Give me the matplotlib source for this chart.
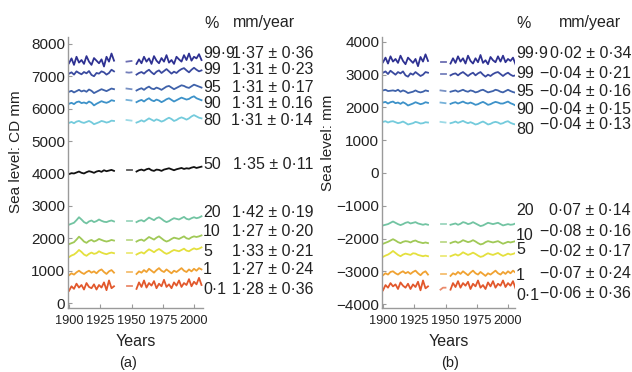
import numpy as np
import matplotlib
matplotlib.use("Agg")
import matplotlib.pyplot as plt

plt.rcParams['font.family'] = ['Liberation Sans', 'DejaVu Sans']

# ---- x positions (years) for the three pieces of each record ----
years_seg1 = list(range(1900, 1937, 2))   # 19
years_dash = [1946, 1948, 1950]           # 3
years_seg2 = list(range(1954, 2007, 2))   # 27
xtick_years = [1900, 1925, 1950, 1975, 2000]
xtick_labels = ["1900", "1925", "1950", "1975", "2000"]

percentiles = ["99·9", "99", "95", "90", "80", "50", "20", "10", "5", "1", "0·1"]
colors = ["#2e3192", "#3a4a9f", "#3f62aa", "#3d92c9", "#74cbdc", "#111111",
          "#72c4a2", "#a0c957", "#e4e03e", "#f0a232", "#e2582c"]

# ---- panel (a): sea level, CD mm ----
a_999 = [7400, 7550, 7350, 7600, 7420, 7500, 7380, 7620, 7450, 7350, 7560, 7480, 7400, 7520, 7300, 7600, 7450, 7700, 7480,
         7450, 7460, 7470,
         7380, 7520, 7400, 7600, 7450, 7550, 7380, 7620, 7480, 7400, 7560, 7450, 7650, 7420, 7500, 7380, 7600, 7520, 7450, 7650, 7500, 7700, 7480, 7600, 7550, 7680, 7500]
a_99 = [7080, 7120, 7050, 7150, 7100, 7060, 7130, 7090, 7160, 7040, 7000, 7100, 7080, 7150, 7120, 7050, 7100, 7200, 7150,
        7120, 7110, 7120,
        7050, 7100, 7130, 7080, 7150, 7200, 7120, 7060, 7140, 7180, 7100, 7160, 7220, 7150, 7080, 7140, 7100, 7170, 7220, 7250, 7180, 7120, 7200, 7260, 7200, 7150, 7180]
a_95 = [6520, 6550, 6500, 6540, 6580, 6530, 6560, 6520, 6590, 6550, 6480, 6520, 6560, 6600, 6570, 6540, 6580, 6620, 6600,
        6620, 6610, 6600,
        6560, 6600, 6630, 6580, 6640, 6680, 6620, 6600, 6650, 6620, 6580, 6630, 6680, 6700, 6650, 6600, 6640, 6680, 6720, 6700, 6660, 6640, 6690, 6740, 6710, 6680, 6650]
a_90 = [6150, 6180, 6140, 6200, 6220, 6170, 6190, 6160, 6220, 6180, 6100, 6150, 6190, 6230, 6200, 6180, 6210, 6260, 6240,
        6270, 6260, 6250,
        6200, 6240, 6270, 6220, 6280, 6320, 6260, 6230, 6280, 6250, 6200, 6240, 6290, 6320, 6270, 6220, 6260, 6300, 6340, 6310, 6280, 6300, 6350, 6380, 6320, 6290, 6260]
a_80 = [5560, 5590, 5550, 5600, 5620, 5580, 5560, 5590, 5620, 5580, 5520, 5550, 5580, 5620, 5600, 5570, 5590, 5630, 5620,
        5650, 5640, 5630,
        5570, 5600, 5640, 5600, 5650, 5700, 5660, 5620, 5670, 5640, 5600, 5630, 5680, 5720, 5680, 5620, 5650, 5700, 5730, 5700, 5660, 5700, 5760, 5800, 5760, 5720, 5700]
a_50 = [3980, 4010, 4000, 4030, 4060, 4020, 4000, 4040, 4070, 4050, 4020, 4060, 4080, 4050, 4100, 4070, 4090, 4110, 4080,
        4100, 4100, 4100,
        4060, 4100, 4120, 4090, 4130, 4150, 4100, 4080, 4120, 4110, 4080, 4120, 4140, 4160, 4130, 4100, 4130, 4150, 4170, 4140, 4160, 4150, 4180, 4200, 4170, 4190, 4210]
a_20 = [2420, 2450, 2480, 2560, 2650, 2580, 2500, 2460, 2520, 2550, 2500, 2530, 2580, 2540, 2510, 2500, 2530, 2550, 2520,
        2540, 2540, 2540,
        2500, 2540, 2560, 2520, 2580, 2640, 2600, 2560, 2620, 2650, 2600, 2540, 2500, 2530, 2580, 2620, 2600, 2580, 2620, 2660, 2600, 2580, 2620, 2650, 2620, 2640, 2680]
a_10 = [1820, 1850, 1880, 1960, 2050, 1980, 1900, 1860, 1920, 1950, 1900, 1930, 1980, 1950, 1920, 1900, 1920, 1950, 1930,
        1940, 1940, 1940,
        1900, 1940, 1960, 1920, 1980, 2040, 2000, 1960, 2020, 2060, 2000, 1940, 1900, 1930, 1980, 2020, 2000, 1980, 2020, 2060, 2000, 1980, 2030, 2060, 2040, 2060, 2090]
a_5 = [1420, 1470, 1500, 1560, 1640, 1580, 1500, 1460, 1520, 1560, 1520, 1540, 1600, 1560, 1530, 1510, 1540, 1560, 1540,
       1550, 1550, 1550,
       1500, 1540, 1570, 1530, 1600, 1660, 1620, 1570, 1630, 1670, 1620, 1560, 1520, 1550, 1600, 1640, 1620, 1600, 1640, 1680, 1620, 1600, 1650, 1690, 1660, 1680, 1720]
a_1 = [860, 920, 880, 950, 1000, 940, 900, 960, 1000, 940, 980, 920, 1000, 1040, 960, 900, 980, 1020, 940,
       960, 960, 960,
       900, 980, 940, 1020, 960, 1060, 1000, 940, 1020, 1080, 1000, 960, 1040, 980, 920, 1000, 960, 1020, 1080, 1000, 960, 1040, 980, 1060, 1000, 1080, 1040]
a_01 = [380, 520, 440, 600, 480, 560, 420, 620, 500, 460, 580, 420, 560, 480, 640, 400, 700, 460, 520,
        520, 520, 520,
        440, 640, 500, 700, 480, 620, 540, 680, 460, 600, 520, 720, 500, 580, 460, 640, 540, 700, 500, 620, 560, 740, 520, 660, 580, 780, 560]
a_rates = ["1·37 ± 0·36", "1·31 ± 0·23", "1·31 ± 0·17", "1·31 ± 0.16", "1·31 ± 0·14",
           "1·35 ± 0·11", "1·42 ± 0·19", "1·27 ± 0·20", "1·33 ± 0·21", "1·27 ± 0·24", "1·28 ± 0·36"]

# ---- panel (b): sea level, mm (median removed) ----
b_999 = [3380, 3520, 3340, 3560, 3400, 3480, 3360, 3580, 3420, 3320, 3520, 3440, 3360, 3480, 3260, 3540, 3400, 3620, 3420,
         3400, 3400, 3400,
         3340, 3500, 3360, 3560, 3400, 3500, 3340, 3580, 3420, 3340, 3500, 3380, 3600, 3360, 3440, 3320, 3540, 3440, 3380, 3560, 3400, 3580, 3380, 3480, 3420, 3520, 3320]
b_99 = [3060, 3100, 3020, 3120, 3060, 3000, 3080, 3040, 3100, 2980, 2940, 3040, 3000, 3080, 3020, 2960, 3000, 3080, 3060,
        3020, 3020, 3020,
        2980, 3020, 3040, 2980, 3040, 3080, 3020, 2960, 3020, 3060, 2980, 3040, 3080, 3000, 2940, 3000, 2960, 3020, 3060, 3080, 3020, 2960, 3020, 3060, 3000, 2960, 2980]
b_95 = [2520, 2540, 2500, 2510, 2520, 2500, 2540, 2480, 2520, 2490, 2440, 2460, 2480, 2520, 2480, 2460, 2480, 2520, 2500,
        2520, 2510, 2500,
        2480, 2500, 2520, 2480, 2510, 2540, 2500, 2480, 2520, 2500, 2460, 2480, 2520, 2540, 2500, 2460, 2480, 2500, 2540, 2520, 2480, 2460, 2500, 2540, 2500, 2470, 2450]
b_90 = [2150, 2170, 2120, 2160, 2180, 2130, 2150, 2110, 2160, 2120, 2060, 2090, 2120, 2160, 2130, 2100, 2120, 2160, 2140,
        2150, 2140, 2130,
        2110, 2140, 2160, 2120, 2150, 2180, 2140, 2120, 2150, 2120, 2080, 2100, 2140, 2170, 2130, 2080, 2100, 2140, 2170, 2150, 2120, 2120, 2150, 2180, 2130, 2100, 2060]
b_80 = [1560, 1580, 1540, 1570, 1580, 1550, 1520, 1540, 1570, 1530, 1480, 1500, 1520, 1560, 1540, 1510, 1520, 1550, 1540,
        1560, 1550, 1540,
        1520, 1540, 1570, 1530, 1560, 1590, 1550, 1520, 1550, 1520, 1480, 1500, 1540, 1570, 1530, 1480, 1500, 1540, 1560, 1540, 1500, 1520, 1560, 1580, 1530, 1500, 1480]
b_20 = [-1600, -1580, -1560, -1520, -1480, -1520, -1560, -1590, -1560, -1520, -1500, -1540, -1520, -1500, -1540, -1560, -1580, -1560, -1580,
        -1560, -1560, -1560,
        -1580, -1560, -1540, -1580, -1550, -1500, -1520, -1560, -1540, -1500, -1540, -1580, -1620, -1600, -1560, -1520, -1540, -1560, -1540, -1520, -1560, -1600, -1580, -1560, -1580, -1570, -1540]
b_10 = [-2160, -2130, -2100, -2060, -2020, -2060, -2110, -2140, -2100, -2080, -2090, -2120, -2080, -2060, -2100, -2120, -2140, -2120, -2140,
        -2120, -2120, -2120,
        -2140, -2110, -2090, -2130, -2100, -2050, -2080, -2110, -2090, -2050, -2090, -2140, -2180, -2160, -2110, -2080, -2100, -2120, -2100, -2080, -2120, -2160, -2130, -2100, -2120, -2100, -2080]
b_5 = [-2560, -2520, -2490, -2440, -2380, -2440, -2500, -2540, -2490, -2460, -2480, -2500, -2450, -2460, -2500, -2520, -2540, -2520, -2540,
       -2520, -2520, -2520,
       -2540, -2510, -2480, -2520, -2480, -2420, -2460, -2500, -2470, -2430, -2470, -2520, -2560, -2540, -2490, -2450, -2480, -2500, -2470, -2440, -2490, -2530, -2500, -2460, -2490, -2470, -2440]
b_1 = [-3120, -3060, -3100, -3020, -3000, -3060, -3100, -3040, -3000, -3060, -3020, -3080, -3020, -2980, -3060, -3120, -3040, -3000, -3100,
       -3080, -3080, -3080,
       -3140, -3060, -3100, -3020, -3080, -3000, -3060, -3120, -3040, -2980, -3060, -3100, -3020, -3080, -3140, -3060, -3100, -3040, -2980, -3060, -3100, -3020, -3080, -3000, -3060, -2980, -3040]
b_01 = [-3580, -3420, -3500, -3360, -3460, -3400, -3540, -3340, -3440, -3500, -3380, -3540, -3400, -3480, -3320, -3580, -3280, -3520, -3460,
        -3560, -3500, -3500,
        -3560, -3360, -3480, -3300, -3500, -3360, -3440, -3320, -3540, -3380, -3460, -3280, -3500, -3420, -3540, -3340, -3460, -3300, -3500, -3380, -3440, -3280, -3480, -3360, -3440, -3300, -3520]
b_rates = ["0·02 ± 0·34", "−0·04 ± 0·21", "−0·04 ± 0·16", "−0·04 ± 0·15", "−0·04 ± 0·13",
           None, "0·07 ± 0·14", "−0·08 ± 0·16", "−0·02 ± 0·17", "−0·07 ± 0·24", "−0·06 ± 0·36"]

a_series = [a_999, a_99, a_95, a_90, a_80, a_50, a_20, a_10, a_5, a_1, a_01]
b_series = [b_999, b_99, b_95, b_90, b_80, None, b_20, b_10, b_5, b_1, b_01]

W, H = 632, 372
fig = plt.figure(figsize=(W / 100, H / 100), dpi=100)

def px_axes(l, t, r, b):
    return fig.add_axes([l / W, 1 - b / H, (r - l) / W, (b - t) / H])

n1, n2 = len(years_seg1), len(years_dash)

def draw(ax, series_list):
    for vals, c in zip(series_list, colors):
        if vals is None:
            continue
        v = np.asarray(vals, float)
        ax.plot(years_seg1, v[:n1], color=c, lw=1.3, solid_joinstyle="round")
        ax.plot(years_dash, v[n1:n1 + n2], color=c, lw=1.3, alpha=0.7)
        ax.plot(years_seg2, v[n1 + n2:], color=c, lw=1.3, solid_joinstyle="round")

def style(ax):
    for s in ("top", "right"):
        ax.spines[s].set_visible(False)
    for s in ("left", "bottom"):
        ax.spines[s].set_color("#9a9a9a")
        ax.spines[s].set_linewidth(1.0)
    ax.tick_params(direction="in", length=3, color="#9a9a9a", width=0.8)
    ax.tick_params(axis="y", labelsize=11, labelcolor="#222222", pad=2)
    ax.tick_params(axis="x", labelsize=9.2, labelcolor="#222222", pad=5)
    ax.set_xticks(xtick_years)
    ax.set_xticklabels(xtick_labels)
    ax.set_xlabel("Years", fontsize=11.5, color="#222222")
    ax.xaxis.set_label_coords(0.5, -0.095)

# panel (a)
axa = px_axes(68, 37, 203, 308)
draw(axa, a_series)
style(axa)
axa.set_xlim(1899.2, 2007.2)
axa.set_ylim(-150, 8210)
axa.set_yticks(range(0, 8001, 1000))
axa.set_ylabel("Sea level: CD mm", fontsize=11, color="#222222")
axa.yaxis.set_label_coords(-0.335, 0.576)

# panel (b)
axb = px_axes(382, 37, 515, 308)
draw(axb, b_series)
style(axb)
axb.set_xlim(1899.2, 2005.6)
axb.set_ylim(-4120, 4150)
axb.set_yticks(range(-4000, 4001, 1000))
axb.set_yticklabels([f"{t}".replace("-", "−") for t in range(-4000, 4001, 1000)])
axb.set_ylabel("Sea level: mm", fontsize=11, color="#222222")
axb.yaxis.set_label_coords(-0.35, 0.61)

def ftext(x, y, s, ha="left", size=11.5):
    fig.text(x / W, 1 - y / H, s, ha=ha, va="center", fontsize=size, color="#222222")

# side labels panel (a)
ftext(204, 23, "%")
ftext(233, 23, "mm/year")
a_rows_y = [53, 70, 88, 104, 121, 164, 212, 232, 251, 270, 289]
for p, r, y in zip(percentiles, a_rates, a_rows_y):
    ftext(203, y, p)
    ftext(313, y, r, ha="right")

# side labels panel (b)
ftext(516, 23, "%")
ftext(559, 23, "mm/year")
b_pct_y = [53, 73, 92, 110, 130, None, 210, 235, 250, 275, 295]
b_val_y = [53, 73, 92, 110, 125, None, 210, 231, 252, 273, 293]
for p, r, yp, yv in zip(percentiles, b_rates, b_pct_y, b_val_y):
    if r is None:
        continue
    ftext(516, yp, p)
    ftext(631, yv, r, ha="right")

ftext(128, 363, "(a)", ha="center", size=10.5)
ftext(450, 363, "(b)", ha="center", size=10.5)

fig.savefig("out.png", dpi=100)
